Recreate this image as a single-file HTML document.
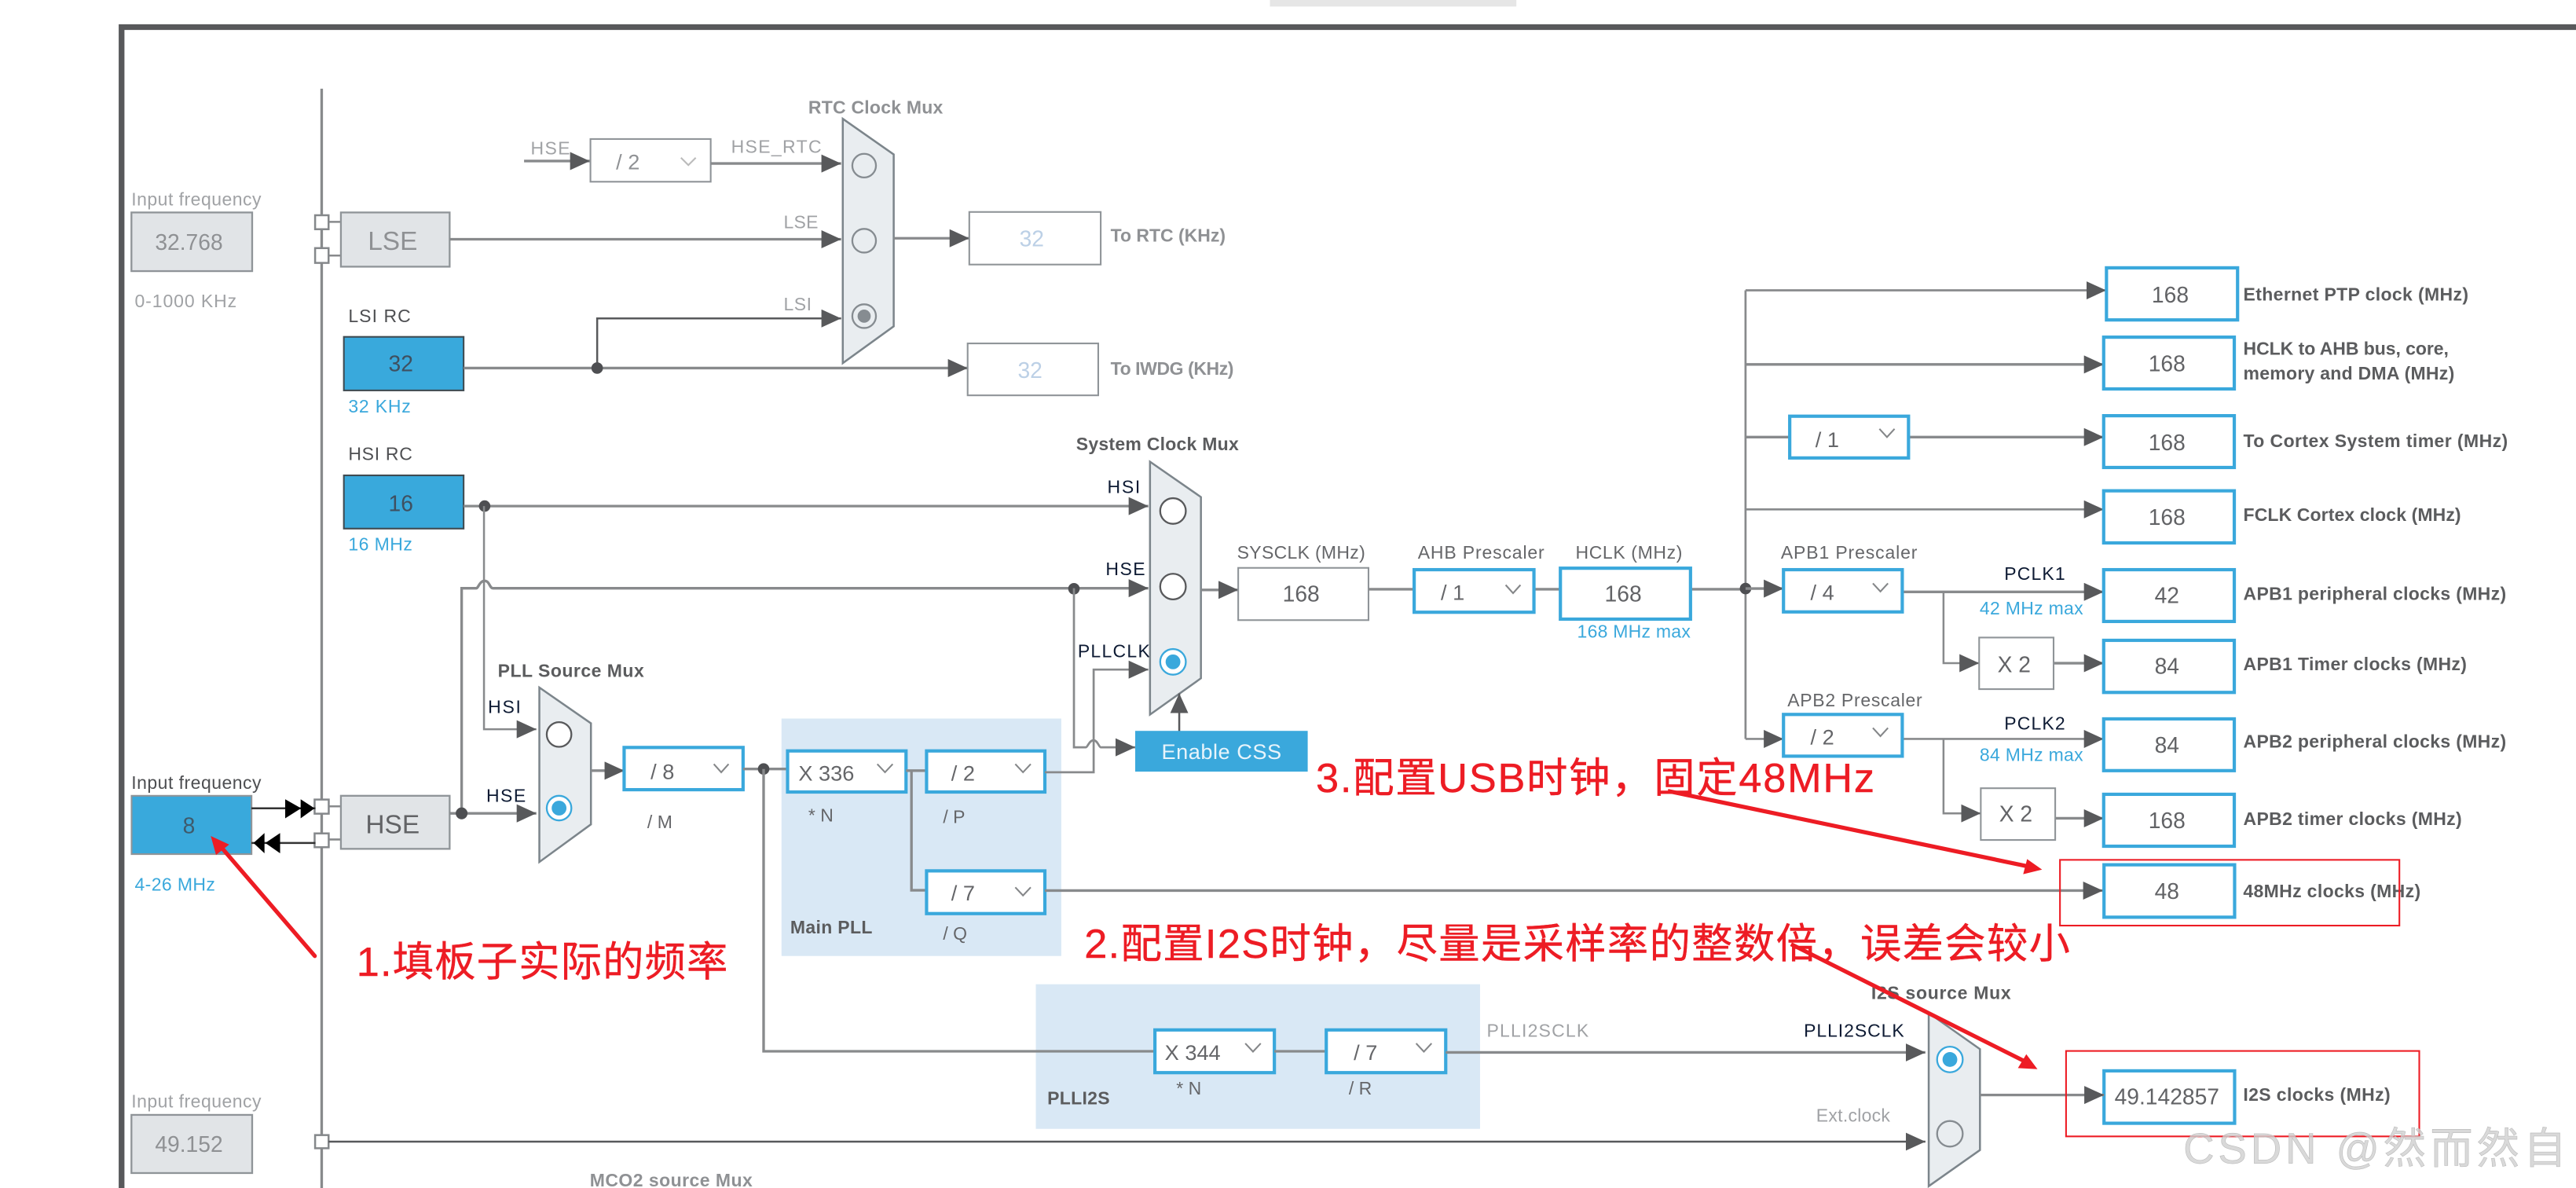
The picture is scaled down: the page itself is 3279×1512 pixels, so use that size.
<!DOCTYPE html>
<html><head><meta charset="utf-8"><style>
html,body{margin:0;padding:0;background:#fff;width:3279px;height:1512px;overflow:hidden}
svg{display:block}
text{font-family:"Liberation Sans","Noto Sans CJK SC",sans-serif;font-size:11px;fill:#656669}
.g{fill:#a0a2a5}.b{fill:#3aa8dc}.k{fill:#0d1a33}.d{fill:#4e4f52}
.s{font-weight:bold;fill:#5b5c5e}.sg{font-weight:bold;fill:#8f9194}
.n{font-size:13.5px;fill:#626366;text-anchor:middle}
.r{font-size:25px;fill:#ed1c24;stroke:#ed1c24;stroke-width:.2}
.l{fill:none;stroke:#888a8c;stroke-width:1.6}
.ld{fill:none;stroke:#58595b;stroke-width:1.2}
.bx{fill:#fff;stroke:#3aa8dc;stroke-width:2}
.wb{fill:#fff;stroke:#8f9498;stroke-width:1}
.gb{fill:#e1e4e7;stroke:#8f9498;stroke-width:1.100}
.sb{fill:#39a9dc;stroke:#3f4b52;stroke-width:1}
.mux{fill:#e9edf0;stroke:#7c858b;stroke-width:1.2}
.ch{fill:none;stroke:#858789;stroke-width:1}
.pin{fill:#fff;stroke:#85888b;stroke-width:1.200}
</style></head><body>
<svg xmlns="http://www.w3.org/2000/svg" width="3279" height="1512" viewBox="0 0 1568 723" preserveAspectRatio="none">
<defs>
<marker id="a" markerUnits="userSpaceOnUse" markerWidth="14" markerHeight="14" refX="12" refY="5.500" orient="auto"><path d="M0 0L12 5.500L0 11Z" fill="#58595b"/></marker>
</defs>
<rect width="1568" height="723" fill="#fff"/>
<rect x="773" y="0" width="150" height="4" fill="#e6e6e6"/>
<path d="M74 723V16.500H1568" fill="none" stroke="#58595b" stroke-width="3.500"/>

<!-- PLL backgrounds -->
<rect x="475.700" y="437.300" width="170.300" height="144.500" fill="#d9e8f5"/>
<rect x="630.500" y="599" width="270.400" height="88" fill="#d9e8f5"/>

<!-- bus -->
<path class="l" d="M195.800 54V723"/>

<!-- left input boxes -->
<text class="g" x="80" y="125" textLength="79">Input frequency</text>
<rect class="gb" x="80" y="129.300" width="73.500" height="35.700"/>
<text class="n" x="115" y="152" style="fill:#8f9194" >32.768</text>
<text class="g" x="82" y="187" textLength="62">0-1000 KHz</text>

<text class="d" x="80" y="480" textLength="79">Input frequency</text>
<rect x="80.100" y="484.300" width="73" height="35.500" fill="#39a9dc" stroke="#8f9498"/>
<text class="n" x="115" y="507" style="fill:#3f5a6b">8</text>
<text class="b" x="82" y="542" textLength="49">4-26 MHz</text>

<text class="g" x="80" y="674" textLength="79">Input frequency</text>
<rect class="gb" x="80" y="678.500" width="73.500" height="35.400"/>
<text class="n" x="115" y="701" style="fill:#8f9194">49.152</text>

<!-- LSE/HSE -->
<path class="l" d="M200 135H207.500M200 155.500H207.500M200 490.700H207.500M200 510.900H207.500" style="stroke-width:1.200"/>
<rect class="pin" x="191.800" y="131" width="8.200" height="8.500"/>
<rect class="pin" x="191.800" y="151" width="8.200" height="9"/>
<rect class="pin" x="191.500" y="486.600" width="8.600" height="8.600"/>
<rect class="pin" x="191.500" y="507.200" width="8.600" height="8.400"/>
<rect class="pin" x="191.800" y="690.800" width="8.200" height="8"/>
<rect class="gb" x="207.500" y="129.300" width="66.200" height="33"/>
<text x="239" y="152" style="font-size:16px;fill:#8f9194" text-anchor="middle">LSE</text>
<rect class="gb" x="207.500" y="484.300" width="66.200" height="32.300"/>
<text x="239" y="507" style="font-size:16px;fill:#626366" text-anchor="middle">HSE</text>

<path d="M153 491.900H192M153 513H192" stroke="#333" stroke-width="1.200" fill="none"/>
<path d="M173.600 486.400L183.300 491.900L173.600 498ZM183 486.400L191.500 491.900L183 498ZM161 507L154.300 513L161 519.300ZM170.500 507L161.500 513L170.500 519.300Z" fill="#000"/>

<!-- LSI / HSI -->
<text class="d" x="212" y="196" textLength="38">LSI RC</text>
<rect class="sb" x="209.300" y="205" width="72.900" height="32.600"/>
<text class="n" x="244" y="226" style="fill:#3f5060">32</text>
<text class="b" x="212" y="251" textLength="38">32 KHz</text>
<text class="d" x="212" y="280" textLength="39">HSI RC</text>
<rect class="sb" x="209.300" y="289.300" width="72.900" height="32.400"/>
<text class="n" x="244" y="311" style="fill:#3f5060">16</text>
<text class="b" x="212" y="335" textLength="39">16 MHz</text>

<!-- RTC section -->
<text class="sg" x="492" y="69" textLength="82">RTC Clock Mux</text>
<path class="l" d="M319 98H359" marker-end="url(#a)"/>
<text class="g" x="323" y="94" textLength="24">HSE</text>
<rect class="wb" x="359.400" y="84.600" width="73.200" height="26"/>
<text x="375" y="103" style="font-size:13px;fill:#8f9194">/ 2</text>
<path class="ch" d="M414.500 96L419 100.500L423.500 96" style="stroke:#bbb"/>
<path class="l" d="M432.600 99.500H512" marker-end="url(#a)"/>
<text class="g" x="445" y="93" textLength="55">HSE_RTC</text>
<path class="l" d="M273.700 145.600H512" marker-end="url(#a)"/>
<text class="g" x="477" y="139" textLength="21">LSE</text>
<path class="l" d="M282.200 224H589" marker-end="url(#a)"/>
<path class="ld" d="M363.500 224V193.800H512" marker-end="url(#a)"/>
<circle cx="363.500" cy="224" r="3.500" fill="#4e4f52"/>
<text class="g" x="477" y="189" textLength="17">LSI</text>
<path class="mux" d="M513 72.300L544 94V198.600L513 221Z"/>
<g fill="none" stroke="#868c91" stroke-width="1.100">
<circle cx="526" cy="100.800" r="7.200"/><circle cx="526" cy="146.500" r="7.200"/><circle cx="526" cy="192.400" r="7.200"/></g>
<circle cx="526" cy="192.400" r="4" fill="#868c91"/>
<path class="l" d="M544 145H590" marker-end="url(#a)"/>
<rect class="wb" x="590" y="129" width="80" height="32"/>
<text class="n" x="628" y="150" style="fill:#bcd0e6">32</text>
<text class="sg" x="676" y="147" textLength="70">To RTC (KHz)</text>
<rect class="wb" x="589" y="209" width="79.500" height="31.600"/>
<text class="n" x="627" y="230" style="fill:#bcd0e6">32</text>
<text class="sg" x="676" y="228" textLength="75">To IWDG (KHz)</text>

<!-- HSI / HSE lines -->
<path class="l" d="M282.200 308H699" marker-end="url(#a)"/>
<circle cx="295" cy="308" r="3.500" fill="#4e4f52"/>
<path class="l" d="M294.600 308V443.800H326.500" marker-end="url(#a)" style="stroke-width:1.200"/>
<path class="l" d="M281 495V358H290C291 358 292 353.500 295 353.500C298 353.500 298 358 300 358H699" marker-end="url(#a)"/>
<circle cx="653.700" cy="358.300" r="3.500" fill="#4e4f52"/>
<path class="l" d="M273.700 495H326.500" marker-end="url(#a)"/>
<circle cx="281" cy="495" r="3.600" fill="#4e4f52"/>
<text class="k" x="297" y="434" textLength="20">HSI</text>
<text class="k" x="296" y="488" textLength="24">HSE</text>
<text class="k" x="674" y="300" textLength="20">HSI</text>
<text class="k" x="673" y="350" textLength="24">HSE</text>
<text class="k" x="656" y="400" textLength="44">PLLCLK</text>

<!-- PLL source mux -->
<text class="s" x="303" y="412" textLength="89">PLL Source Mux</text>
<path class="mux" d="M328.300 418.400L359.700 440.200V501.700L328.300 524.600Z"/>
<circle cx="340.300" cy="447" r="7.500" fill="#fff" stroke="#58595b" stroke-width="1.100"/>
<circle cx="340.300" cy="491.800" r="7.500" fill="#fff" stroke="#3aa8dc" stroke-width="1.100"/>
<circle cx="340.300" cy="491.800" r="4.500" fill="#3aa8dc"/>
<path class="l" d="M359.700 469H380" marker-end="url(#a)"/>
<rect class="bx" x="379.900" y="454.900" width="72.400" height="25.700"/>
<text x="396" y="474" style="font-size:13px">/ 8</text>
<path class="ch" d="M434.500 465L439 470L443.500 465"/>
<text x="394" y="504">/ M</text>
<path class="l" d="M452.300 468H479.400"/>
<circle cx="464.800" cy="468" r="3.500" fill="#4e4f52"/>
<path class="l" d="M464.800 468V639.800H703"/>

<!-- Main PLL -->
<rect class="bx" x="479.400" y="457" width="72.100" height="25"/>
<text x="486" y="475" style="font-size:13px">X 336</text>
<path class="ch" d="M534 465L538.700 470L543.400 465"/>
<text x="492" y="500">* N</text>
<path class="l" d="M551.500 469H564M554.800 469V541.800H564"/>
<rect class="bx" x="564" y="457" width="72" height="25"/>
<text x="579" y="475" style="font-size:13px">/ 2</text>
<path class="ch" d="M618 465L622.700 470L627.400 465"/>
<text x="574" y="501">/ P</text>
<rect class="bx" x="564" y="530" width="72" height="26"/>
<text x="579" y="548" style="font-size:13px">/ 7</text>
<path class="ch" d="M618 540L622.700 545L627.400 540"/>
<text x="574" y="572">/ Q</text>
<text class="s" x="481" y="568" textLength="50">Main PLL</text>
<path class="l" d="M636 542H1280" marker-end="url(#a)"/>
<path class="l" d="M636 470H665.700V407.500H699" marker-end="url(#a)" style="stroke-width:1.300"/>
<path class="l" d="M653.700 358V454.800H661C662 454.800 663 450.500 665.700 450.500C668 450.500 669 454.800 670 454.800H691" marker-end="url(#a)" style="stroke-width:1.300"/>

<!-- system mux -->
<text class="s" x="655" y="274" textLength="99">System Clock Mux</text>
<path class="mux" d="M700 281L731 302.500V412.800L700 434.900Z"/>
<circle cx="714" cy="311" r="7.800" fill="#fff" stroke="#58595b" stroke-width="1.100"/>
<circle cx="714" cy="357" r="7.800" fill="#fff" stroke="#58595b" stroke-width="1.100"/>
<circle cx="714" cy="402.800" r="7.800" fill="#fff" stroke="#3aa8dc" stroke-width="1.100"/>
<circle cx="714" cy="402.800" r="4.500" fill="#3aa8dc"/>
<path class="ld" d="M717.800 445V422" marker-end="url(#a)"/>
<rect x="691" y="444.800" width="105" height="24.800" fill="#3aa8dc"/>
<text x="743.500" y="462" style="font-size:13px;fill:#e8f4fb" text-anchor="middle" textLength="73">Enable CSS</text>

<path class="l" d="M731 359H753.700" marker-end="url(#a)"/>
<text x="753" y="340" textLength="78">SYSCLK (MHz)</text>
<rect class="wb" x="753.700" y="345.600" width="79.300" height="31.800"/>
<text class="n" x="792" y="366">168</text>
<path class="l" d="M833 358.600H1062.500"/>
<text x="863" y="340" textLength="77">AHB Prescaler</text>
<rect class="bx" x="860.800" y="346.700" width="72.900" height="25.900"/>
<text x="877" y="365" style="font-size:13px">/ 1</text>
<path class="ch" d="M916.500 356L921 361L925.500 356"/>
<text x="959" y="340" textLength="65">HCLK (MHz)</text>
<rect class="bx" x="949.800" y="345.800" width="79.200" height="31"/>
<text class="n" x="988" y="366">168</text>
<text class="b" x="960" y="388" textLength="69">168 MHz max</text>

<!-- right tree -->
<path class="l" d="M1062.500 176.700V449.700" style="stroke-width:1.300"/>
<circle cx="1062.500" cy="358.200" r="3.500" fill="#4e4f52"/>
<path class="l" d="M1062.500 176.700H1282" marker-end="url(#a)" style="stroke-width:1.300"/>
<path class="l" d="M1062.500 221.800H1280.500" marker-end="url(#a)"/>
<path class="l" d="M1062.500 266H1089.400M1161.700 266H1280.500" marker-end="url(#a)"/>
<path class="l" d="M1062.500 310H1280.500" marker-end="url(#a)" style="stroke-width:1.300"/>
<path class="l" d="M1062.500 358.200H1085.600" marker-end="url(#a)"/>
<path class="l" d="M1062.500 449.700H1085.600" marker-end="url(#a)" style="stroke-width:1.300"/>
<path class="l" d="M1157.900 360.200H1280.500" marker-end="url(#a)"/>
<path class="l" d="M1183 360.200V403.600H1204.700" marker-end="url(#a)" style="stroke-width:1.200"/>
<path class="l" d="M1250 403.600H1280.500" marker-end="url(#a)"/>
<path class="l" d="M1157.900 449.700H1280.500" marker-end="url(#a)" style="stroke-width:1.300"/>
<path class="l" d="M1183 449.700V495H1205.700" marker-end="url(#a)" style="stroke-width:1.200"/>
<path class="l" d="M1251 498H1280.500" marker-end="url(#a)"/>

<rect class="bx" x="1089.400" y="253.300" width="72.300" height="25.400"/>
<text x="1105" y="272" style="font-size:13px">/ 1</text>
<path class="ch" d="M1144 261L1148.600 266L1153.200 261"/>
<text x="1084" y="340" textLength="83">APB1 Prescaler</text>
<rect class="bx" x="1085.600" y="346.700" width="72.300" height="25.700"/>
<text x="1102" y="365" style="font-size:13px">/ 4</text>
<path class="ch" d="M1140 355L1144.600 360L1149.200 355"/>
<text x="1088" y="430" textLength="82">APB2 Prescaler</text>
<rect class="bx" x="1085.600" y="434.800" width="72.300" height="25.400"/>
<text x="1102" y="453" style="font-size:13px">/ 2</text>
<path class="ch" d="M1140 443L1144.600 448L1149.200 443"/>
<text class="k" x="1220" y="353" textLength="37">PCLK1</text>
<text class="b" x="1205" y="374" textLength="63">42 MHz max</text>
<text class="k" x="1220" y="444" textLength="37">PCLK2</text>
<text class="b" x="1205" y="463" textLength="63">84 MHz max</text>
<rect class="wb" x="1204.700" y="388" width="45.300" height="31.400"/>
<text class="n" x="1226" y="409">X 2</text>
<rect class="wb" x="1205.700" y="479.700" width="45.300" height="31.500"/>
<text class="n" x="1227" y="500">X 2</text>

<rect class="bx" x="1282.200" y="163" width="79.800" height="31.700"/><text class="n" x="1321" y="184">168</text>
<text class="s" x="1365.500" y="183" textLength="137">Ethernet PTP clock (MHz)</text>
<rect class="bx" x="1280.500" y="205.200" width="79.500" height="31.500"/><text class="n" x="1319" y="226">168</text>
<text class="s" x="1365.500" y="216" textLength="125">HCLK to AHB bus, core,</text>
<text class="s" x="1365.500" y="231" textLength="128.500">memory and DMA (MHz)</text>
<rect class="bx" x="1280.500" y="253" width="79.500" height="31.500"/><text class="n" x="1319" y="274">168</text>
<text class="s" x="1365.500" y="272" textLength="161">To Cortex System timer (MHz)</text>
<rect class="bx" x="1280.500" y="298.700" width="79.500" height="31.700"/><text class="n" x="1319" y="319.500">168</text>
<text class="s" x="1365.500" y="317" textLength="132.500">FCLK Cortex clock (MHz)</text>
<rect class="bx" x="1280.500" y="346.700" width="79.500" height="31.500"/><text class="n" x="1319" y="367">42</text>
<text class="s" x="1365.500" y="365" textLength="160">APB1 peripheral clocks (MHz)</text>
<rect class="bx" x="1280.500" y="389.700" width="79.500" height="31.700"/><text class="n" x="1319" y="410">84</text>
<text class="s" x="1365.500" y="408" textLength="136">APB1 Timer clocks (MHz)</text>
<rect class="bx" x="1280.500" y="437.500" width="79.500" height="31.500"/><text class="n" x="1319" y="458">84</text>
<text class="s" x="1365.500" y="455" textLength="160">APB2 peripheral clocks (MHz)</text>
<rect class="bx" x="1280.500" y="483.400" width="79.500" height="31.600"/><text class="n" x="1319" y="504">168</text>
<text class="s" x="1365.500" y="502" textLength="133">APB2 timer clocks (MHz)</text>
<rect class="bx" x="1280.700" y="526.300" width="79.500" height="31.900"/><text class="n" x="1319" y="547">48</text>
<text class="s" x="1365.400" y="546" textLength="108">48MHz clocks (MHz)</text>
<rect class="bx" x="1280.700" y="651.700" width="79.500" height="31.900"/><text class="n" x="1319" y="672">49.142857</text>
<text class="s" x="1365.400" y="670" textLength="89.600">I2S clocks (MHz)</text>

<!-- PLLI2S -->
<text class="s" x="637.500" y="672" textLength="38">PLLI2S</text>
<rect class="bx" x="703" y="626.800" width="72.700" height="26"/>
<text x="709" y="645" style="font-size:13px">X 344</text>
<path class="ch" d="M758 635L762.700 640L767.400 635"/>
<text x="716" y="666">* N</text>
<path class="l" d="M775.700 639.800H807.300"/>
<rect class="bx" x="807.300" y="626.800" width="72.700" height="26"/>
<text x="824" y="645" style="font-size:13px">/ 7</text>
<path class="ch" d="M862 635L866.700 640L871.400 635"/>
<text x="821" y="666">/ R</text>
<text class="g" x="905" y="631" textLength="62">PLLI2SCLK</text>
<path class="l" d="M880 640.500H1172" marker-end="url(#a)"/>
<text class="k" x="1098" y="631" textLength="61">PLLI2SCLK</text>
<text class="g" x="1105.500" y="682.600" textLength="45">Ext.clock</text>
<path class="ld" d="M200 694.800H1172" marker-end="url(#a)"/>
<text class="s" x="1139" y="608" textLength="85">I2S source Mux</text>
<text class="sg" x="359" y="722" textLength="99">MCO2 source Mux</text>
<path class="mux" d="M1174 616.500L1205.200 638.500V699.900L1174 721.900Z"/>
<circle cx="1186.900" cy="644.800" r="7.800" fill="#fff" stroke="#3aa8dc" stroke-width="1.100"/>
<circle cx="1186.900" cy="644.800" r="4.500" fill="#3aa8dc"/>
<circle cx="1186.900" cy="690" r="7.800" fill="none" stroke="#868c91" stroke-width="1.100"/>
<path class="l" d="M1205.200 666.400H1280.700" marker-end="url(#a)"/>

<!-- annotations -->
<rect x="1253.900" y="523.300" width="206.600" height="40" fill="none" stroke="#ed1c24" stroke-width="1"/>
<rect x="1257.600" y="639.600" width="215" height="52" fill="none" stroke="#ed1c24" stroke-width="1"/>
<path d="M191.600 581.800L135 516" stroke="#ed1c24" stroke-width="2.500" stroke-linecap="round" fill="none"/>
<path d="M128.300 508.800L139.500 514L131.500 520.300Z" fill="#ed1c24"/>
<path d="M1015.200 481.400L1235 527.400" stroke="#ed1c24" stroke-width="2.500" fill="none"/>
<path d="M1243 529.200L1233.900 522.800L1231.500 532Z" fill="#ed1c24"/>
<text class="r" x="217" y="594" textLength="226">1.填板子实际的频率</text>
<text class="r" x="801" y="482" textLength="340">3.配置USB时钟，固定48MHz</text>
<text class="r" x="660" y="583" textLength="600">2.配置I2S时钟，尽量是采样率的整数倍，误差会较小</text>
<path d="M1090.200 574.600L1232 645.700" stroke="#ed1c24" stroke-width="2.500" fill="none"/>
<path d="M1240.200 650.700L1228.300 650L1233.400 641.600Z" fill="#ed1c24"/>

<text x="1329" y="708" textLength="233" style="font-size:26px;fill:#cfcfcf;fill-opacity:.8;stroke:#bdbdbd;stroke-width:.3">CSDN @然而然自</text>
</svg>
</body></html>
